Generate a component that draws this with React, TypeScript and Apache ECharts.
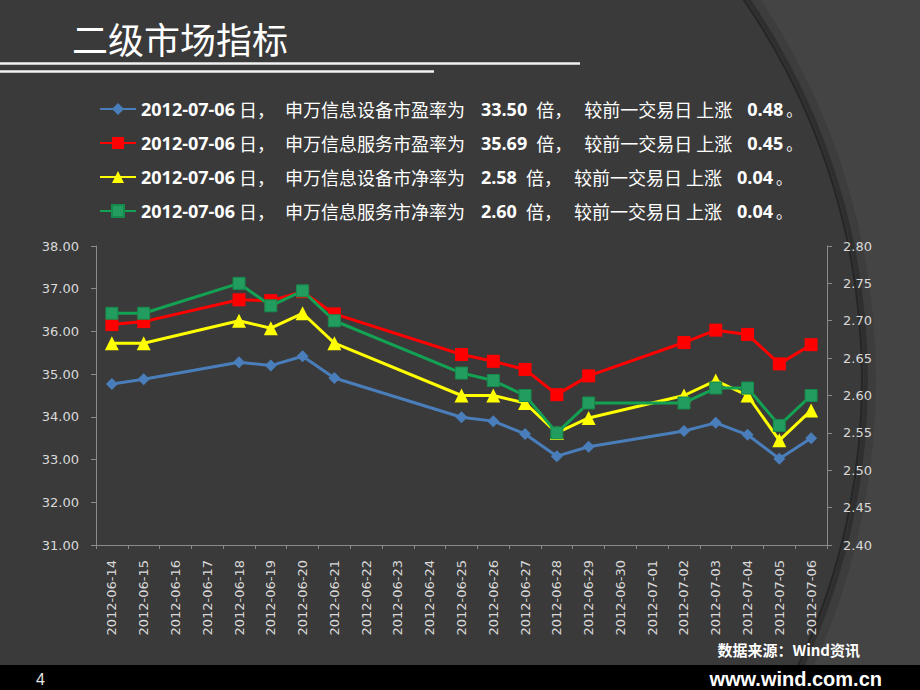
import React, { useEffect, useRef } from 'react';
import * as echarts from 'echarts';

// ---- data ----
const dates = [
  '2012-06-14', '2012-06-15', '2012-06-16', '2012-06-17', '2012-06-18', '2012-06-19',
  '2012-06-20', '2012-06-21', '2012-06-22', '2012-06-23', '2012-06-24', '2012-06-25',
  '2012-06-26', '2012-06-27', '2012-06-28', '2012-06-29', '2012-06-30', '2012-07-01',
  '2012-07-02', '2012-07-03', '2012-07-04', '2012-07-05', '2012-07-06',
];

// 申万信息设备 市盈率 (left axis)
const equipPE = [34.77, 34.88, null, null, 35.28, 35.20, 35.42, 34.91, null, null, null, 33.99, 33.90, 33.60, 33.08, 33.30, null, null, 33.67, 33.86, 33.58, 33.02, 33.50];
// 申万信息服务 市盈率 (left axis)
const servicePE = [36.16, 36.23, null, null, 36.74, 36.72, 36.93, 36.41, null, null, null, 35.46, 35.30, 35.11, 34.52, 34.96, null, null, 35.74, 36.03, 35.93, 35.24, 35.69];
// 申万信息设备 市净率 (right axis)
const equipPB = [2.67, 2.67, null, null, 2.70, 2.69, 2.71, 2.67, null, null, null, 2.60, 2.60, 2.59, 2.55, 2.57, null, null, 2.60, 2.62, 2.60, 2.54, 2.58];
// 申万信息服务 市净率 (right axis)
const servicePB = [2.71, 2.71, null, null, 2.75, 2.72, 2.74, 2.70, null, null, null, 2.63, 2.62, 2.60, 2.55, 2.59, null, null, 2.59, 2.61, 2.61, 2.56, 2.60];

const seriesNames = ['申万信息设备市盈率', '申万信息服务市盈率', '申万信息设备市净率', '申万信息服务市净率'];
const legendPhrases = ['申万信息设备市盈率为', '申万信息服务市盈率为', '申万信息设备市净率为', '申万信息服务市净率为'];
const latestDate = '2012-07-06';
const latestValues = ['33.50', '35.69', '2.58', '2.60'];
const dailyChanges = ['0.48', '0.45', '0.04', '0.04'];

const leftAxisRange = [31, 38, 1];
const rightAxisRange = [2.4, 2.8, 0.05];

const COLORS = ['#4a7ebb', '#ff0000', '#ffff00', '#13a253'];
const SYMBOLS = ['diamond', 'rect', 'triangle', 'rect'];
const SYMBOL_SIZES = [12, 13, 14, 12];

const CJK = '"Noto Sans CJK SC", "Noto Sans", sans-serif';
const NUM = '"Open Sans", "Liberation Sans", sans-serif';
const AXIS_FONT = '"DejaVu Sans", Verdana, sans-serif';

export default function App() {
  const ref = useRef<HTMLDivElement>(null);

  useEffect(() => {
    if (!ref.current) return;
    const chart = echarts.init(ref.current, null, { renderer: 'svg' });

    const seriesData = [equipPE, servicePE, equipPB, servicePB];
    const axisIdx = [0, 0, 1, 1];

    const series = seriesNames.map((name, i) => ({
      name,
      type: 'line',
      yAxisIndex: axisIdx[i],
      data: seriesData[i],
      connectNulls: true,
      symbol: SYMBOLS[i],
      symbolSize: SYMBOL_SIZES[i],
      showAllSymbol: true,
      lineStyle: { width: 3, color: COLORS[i] },
      itemStyle: i === 3
        ? { color: '#239c5f', borderColor: '#168a4c', borderWidth: 1 }
        : { color: COLORS[i] },
      emphasis: { disabled: true },
      z: 2 + i,
    }));

    const labelStyle = {
      color: '#d9d9d9',
      fontFamily: AXIS_FONT,
      fontSize: 13,
    };
    const axisLineColor = '#8a8a8a';

    const cjkTok = (padding: number[]) => ({
      fontFamily: CJK, fontSize: 18, color: '#fff', lineHeight: 20, padding, verticalAlign: 'middle',
    });
    const numTok = (padding: number[]) => ({
      fontFamily: NUM, fontWeight: 'bold', fontSize: 18, color: '#fff', lineHeight: 20, padding, verticalAlign: 'middle',
    });

    const option = {
      animation: false,
      backgroundColor: '#444444',
      textStyle: { fontFamily: CJK },
      grid: { left: 96, right: 93, top: 246, bottom: 145, containLabel: false },
      legend: {
        orient: 'vertical',
        left: 94,
        top: 95,
        padding: 5,
        itemWidth: 36,
        itemHeight: 15,
        itemGap: 16,
        selectedMode: false,
        data: seriesNames,
        formatter: (name: string) => {
          const i = seriesNames.indexOf(name);
          return (
            `{d|${latestDate}}{a|日，}{b|${legendPhrases[i]}}{v|${latestValues[i]}}` +
            `{e|倍，}{f|较前一交易日 上涨}{g|${dailyChanges[i]}}{h|。}`
          );
        },
        textStyle: {
          color: '#ffffff',
          rich: {
            d: numTok([0, 0, 0, 0]),
            a: cjkTok([0, 4, 0, 4]),
            b: cjkTok([0, 12, 0, 6]),
            v: numTok([0, 3, 0, 4]),
            e: cjkTok([0, 6, 0, 6]),
            f: cjkTok([0, 10, 0, 6]),
            g: numTok([0, 3, 0, 5]),
            h: { fontFamily: CJK, fontSize: 16, color: '#fff', lineHeight: 20, verticalAlign: 'middle' },
          },
        },
      },
      xAxis: {
        type: 'category',
        data: dates,
        boundaryGap: true,
        axisLine: { show: true, lineStyle: { color: axisLineColor, width: 1 } },
        axisTick: { show: true, interval: 0, length: 4, lineStyle: { color: axisLineColor } },
        axisLabel: { ...labelStyle, interval: 0, rotate: 90, margin: 15 },
        splitLine: { show: false },
      },
      yAxis: [
        {
          type: 'value',
          position: 'left',
          min: leftAxisRange[0],
          max: leftAxisRange[1],
          interval: leftAxisRange[2],
          axisLine: { show: true, lineStyle: { color: axisLineColor, width: 1 } },
          axisTick: { show: true, length: 5, lineStyle: { color: axisLineColor } },
          axisLabel: { ...labelStyle, margin: 17, formatter: (v: number) => v.toFixed(2) },
          splitLine: { show: false },
        },
        {
          type: 'value',
          position: 'right',
          min: rightAxisRange[0],
          max: rightAxisRange[1],
          interval: rightAxisRange[2],
          axisLine: { show: true, lineStyle: { color: axisLineColor, width: 1 } },
          axisTick: { show: true, length: 5, lineStyle: { color: axisLineColor } },
          axisLabel: { ...labelStyle, margin: 16, formatter: (v: number) => v.toFixed(2) },
          splitLine: { show: false },
        },
      ],
      series,
      graphic: [
        // decorative arc: darker slide body with a soft shadowed edge
        {
          type: 'circle', z: -20, silent: true,
          shape: { cx: 192, cy: 380, r: 678 },
          style: { fill: 'none', stroke: 'rgba(0,0,0,0.10)', lineWidth: 12 },
        },
        {
          type: 'circle', z: -19, silent: true,
          shape: { cx: 192, cy: 380, r: 673 },
          style: { fill: 'none', stroke: 'rgba(0,0,0,0.22)', lineWidth: 6 },
        },
        {
          type: 'circle', z: -18, silent: true,
          shape: { cx: 192, cy: 380, r: 670 },
          style: { fill: '#3a3a3a', stroke: 'rgba(20,20,20,0.5)', lineWidth: 2 },
        },
        // title
        {
          type: 'text', z: 10, silent: true,
          x: 72, y: 38,
          style: {
            text: '二级市场指标',
            fill: '#ffffff',
            fontFamily: CJK,
            fontSize: 36,
            fontWeight: 'normal',
            align: 'left',
            verticalAlign: 'middle',
          },
        },
        {
          type: 'line', z: 10, silent: true,
          shape: { x1: 0, y1: 63.5, x2: 580, y2: 63.5 },
          style: { stroke: '#f2f2f2', lineWidth: 2.5 },
        },
        {
          type: 'line', z: 10, silent: true,
          shape: { x1: 0, y1: 71.5, x2: 434, y2: 71.5 },
          style: { stroke: '#f2f2f2', lineWidth: 2.5 },
        },
        // source note
        {
          type: 'text', z: 10, silent: true,
          x: 860, y: 649,
          style: {
            text: '数据来源：Wind资讯',
            fill: '#ffffff',
            fontFamily: CJK,
            fontWeight: 'bold',
            fontSize: 15,
            align: 'right',
            verticalAlign: 'middle',
          },
        },
        // footer bar
        {
          type: 'rect', z: 10, silent: true,
          shape: { x: 0, y: 665, width: 920, height: 25 },
          style: { fill: '#000000' },
        },
        {
          type: 'text', z: 11, silent: true,
          x: 36, y: 679,
          style: {
            text: '4',
            fill: '#e6e6e6',
            fontFamily: '"Liberation Sans", Arial, sans-serif',
            fontSize: 16,
            align: 'left',
            verticalAlign: 'middle',
          },
        },
        {
          type: 'text', z: 11, silent: true,
          x: 882, y: 679,
          style: {
            text: 'www.wind.com.cn',
            fill: '#ffffff',
            fontFamily: '"Liberation Sans", Arial, sans-serif',
            fontWeight: 'bold',
            fontSize: 20,
            align: 'right',
            verticalAlign: 'middle',
          },
        },
      ],
    };

    chart.setOption(option as any);
    return () => {
      chart.dispose();
    };
  }, []);

  return (
    <div
      ref={ref}
      style={{ position: 'fixed', left: 0, top: 0, width: 920, height: 690 }}
    />
  );
}
